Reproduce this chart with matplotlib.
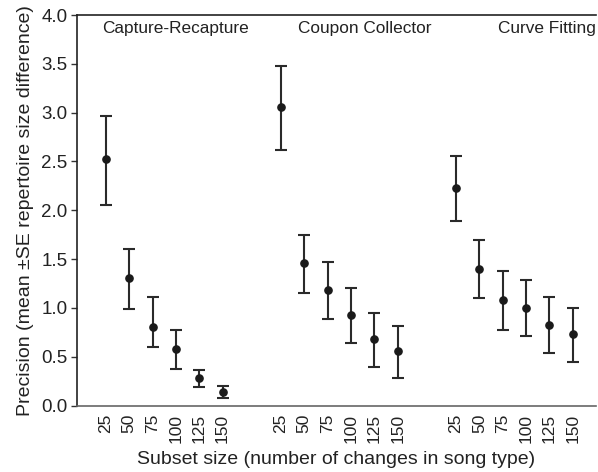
import matplotlib
matplotlib.use("Agg")
import matplotlib.pyplot as plt
import numpy as np

plt.rcParams['font.family'] = ['Liberation Sans', 'DejaVu Sans']

methods = ["Capture-Recapture", "Coupon Collector", "Curve Fitting"]
subset_sizes = ["25", "50", "75", "100", "125", "150"]

means = {
    "Capture-Recapture": [2.52, 1.31, 0.80, 0.58, 0.285, 0.14],
    "Coupon Collector": [3.055, 1.457, 1.18, 0.927, 0.678, 0.555],
    "Curve Fitting": [2.228, 1.40, 1.078, 1.00, 0.828, 0.736],
}
upper = {
    "Capture-Recapture": [2.97, 1.60, 1.115, 0.77, 0.364, 0.20],
    "Coupon Collector": [3.475, 1.744, 1.467, 1.207, 0.951, 0.818],
    "Curve Fitting": [2.56, 1.70, 1.38, 1.29, 1.11, 0.999],
}
lower = {
    "Capture-Recapture": [2.05, 0.99, 0.60, 0.377, 0.19, 0.08],
    "Coupon Collector": [2.62, 1.153, 0.886, 0.64, 0.398, 0.279],
    "Curve Fitting": [1.893, 1.10, 0.77, 0.709, 0.54, 0.446],
}

fig = plt.figure(figsize=(5.98, 4.72), dpi=100)
ax = fig.add_axes([77/598, 66.5/472, 519/598, 390.5/472])

group_gap = 7.5
title_x = [3.0, 11.1, 18.9]
xticks = []
xlabels = []
for g, m in enumerate(methods):
    x = np.arange(len(subset_sizes)) + g * group_gap
    y = np.array(means[m])
    yerr = np.vstack([y - np.array(lower[m]), np.array(upper[m]) - y])
    ax.errorbar(x, y, yerr=yerr, fmt='o', color='#1a1a1a', ecolor='#2a2a2a',
                elinewidth=1.5, capsize=4.5, capthick=1.5, markersize=5.2)
    xticks.extend(x)
    xlabels.extend(subset_sizes)
    ax.text(title_x[g], 3.94, m, ha='center', va='top', fontsize=12.4, color='#222222')

ax.set_xticks(xticks)
ax.set_xticklabels(xlabels, rotation=90, fontsize=12.5, color='#222222')
ax.tick_params(axis='x', length=0, pad=6)
ax.set_xlim(-1.24, 21.0)
ax.set_ylim(0, 4.0)
ax.set_yticks(np.arange(0, 4.01, 0.5))
ax.set_yticklabels([f"{v:.1f}" for v in np.arange(0, 4.01, 0.5)], fontsize=13.5, color='#222222')
ax.tick_params(axis='y', length=4, width=1, color='#333333', pad=3)

ax.spines['right'].set_visible(False)
ax.spines['top'].set_color('#222222')
ax.spines['left'].set_color('#222222')
ax.spines['bottom'].set_color('#666666')
for s in ['top', 'left', 'bottom']:
    ax.spines[s].set_linewidth(1.2)

ax.set_xlabel("Subset size (number of changes in song type)", fontsize=14, color='#222222', labelpad=6)
ax.set_ylabel("Precision (mean \u00b1SE repertoire size difference)", fontsize=14, color='#222222', labelpad=5)

fig.savefig("out.png", dpi=100)
